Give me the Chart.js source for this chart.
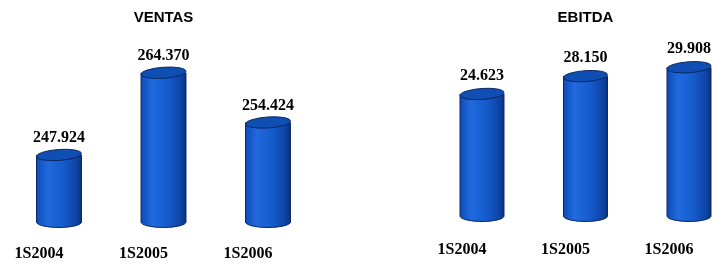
<!DOCTYPE html>
<html>
<head>
<meta charset="utf-8">
<script src="https://cdn.jsdelivr.net/npm/chart.js@4/dist/chart.umd.min.js"></script>
<style>
  html, body { margin: 0; padding: 0; background: #fff; overflow: hidden; width: 712px; height: 264px; }
  #c1 { position: absolute; left: 0; top: 0; }
  #c2 { position: absolute; left: 356px; top: 0; }
</style>
</head>
<body>
<canvas id="c1" width="356" height="264"></canvas>
<canvas id="c2" width="400" height="264"></canvas>
<script>
// ---- data ----
const categories = ['1S2004', '1S2005', '1S2006'];
const ventasValues = [247.924, 264.370, 254.424];
const ebitdaValues = [24.623, 28.150, 29.908];
const ventasTitle = 'VENTAS';
const ebitdaTitle = 'EBITDA';

const cylinderPlugin = {
  id: 'cylinder',
  afterDatasetsDraw(chart, args, opts) {
    const ctx = chart.ctx;
    const meta = chart.getDatasetMeta(0);
    const values = chart.data.datasets[0].data;
    meta.data.forEach((bar, i) => {
      const p = bar.getProps(['x', 'y', 'base', 'width'], true);
      const x = p.x, y = p.y, rx = p.width / 2, ry = 5.5;
      const base = Math.min(p.base, chart.chartArea.bottom);
      const left = x - rx, right = x + rx;
      ctx.save();
      const g = ctx.createLinearGradient(left, 0, right, 0);
      g.addColorStop(0, '#104cb8');
      g.addColorStop(0.25, '#1f6ade');
      g.addColorStop(0.6, '#155bcc');
      g.addColorStop(0.88, '#0e44a5');
      g.addColorStop(1, '#0a3380');
      ctx.beginPath();
      ctx.moveTo(left, y);
      ctx.lineTo(left, base);
      ctx.ellipse(x, base, rx, ry, 0, Math.PI, 0, true);
      ctx.lineTo(right, y);
      ctx.closePath();
      ctx.fillStyle = g;
      ctx.fill();
      ctx.beginPath();
      ctx.moveTo(left, y);
      ctx.lineTo(left, base);
      ctx.ellipse(x, base, rx, ry, 0, Math.PI, 0, true);
      ctx.lineTo(right, y);
      ctx.strokeStyle = '#0b2563';
      ctx.lineWidth = 1;
      ctx.stroke();
      // top
      ctx.beginPath();
      ctx.ellipse(x, y, rx, ry, -0.07, 0, Math.PI * 2);
      ctx.fillStyle = '#0f4fb4';
      ctx.fill();
      ctx.strokeStyle = '#0b2563';
      ctx.stroke();
      // value label
      ctx.fillStyle = '#000';
      ctx.font = 'bold 16px "Liberation Serif"';
      ctx.textAlign = 'center';
      ctx.textBaseline = 'middle';
      ctx.fillText(values[i].toFixed(3), x, y - opts.labelOffset);
      ctx.restore();
    });
  }
};

function makeChart(id, title, values, yMin, yMax, pad, axisH, tickPad, barPct, labelOffset) {
  return new Chart(document.getElementById(id), {
    type: 'bar',
    data: {
      labels: categories,
      datasets: [{
        data: values,
        backgroundColor: 'rgba(0,0,0,0)',
        borderWidth: 0,
        barPercentage: barPct,
        categoryPercentage: 1
      }]
    },
    options: {
      responsive: false,
      animation: false,
      devicePixelRatio: 1,
      events: [],
      layout: { padding: pad },
      plugins: {
        legend: { display: false },
        tooltip: { enabled: false },
        title: {
          display: true,
          text: title,
          color: '#000',
          font: { family: '"Liberation Sans", Arial, sans-serif', size: 15, weight: 'bold', lineHeight: 1.2 },
          padding: { top: 9, bottom: 9 }
        },
        cylinder: { labelOffset: labelOffset }
      },
      scales: {
        x: {
          grid: { display: false, drawTicks: false },
          border: { display: false },
          afterFit(scale) { scale.height = axisH; },
          ticks: {
            color: '#000',
            font: { family: '"Liberation Serif", serif', size: 16, weight: 'bold' },
            padding: tickPad,
            labelOffset: -20,
            maxRotation: 0,
            autoSkip: false
          }
        },
        y: {
          display: false,
          min: yMin,
          max: yMax
        }
      }
    },
    plugins: [cylinderPlugin]
  });
}

makeChart('c1', ventasTitle, ventasValues, 234.52, 271.72,
  { left: 6.75, right: 35.75, top: 0, bottom: 2 }, 40, 22, 0.43, 17);
makeChart('c2', ebitdaTitle, ebitdaValues, 0.46, 36.1,
  { left: 74.25, right: 15.25, top: 0, bottom: 8 }, 40, 24, 0.425, 18.5);
</script>
</body>
</html>
